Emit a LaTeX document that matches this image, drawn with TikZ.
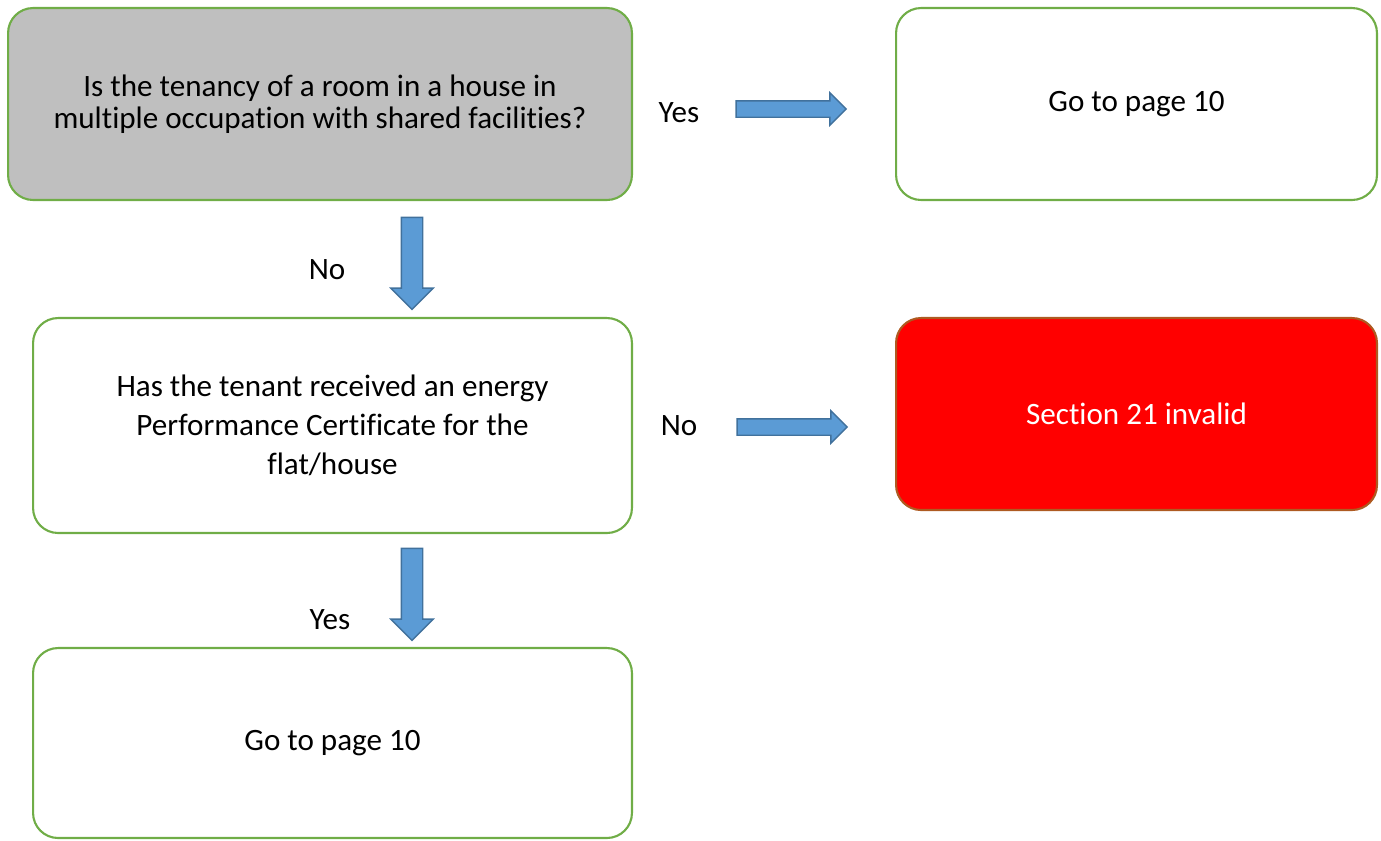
\documentclass[tikz,border=0pt]{standalone}
\usepackage{fontspec}
\setmainfont[Ligatures=NoCommon]{Carlito}
\usetikzlibrary{shapes.arrows}
\definecolor{boxgreen}{HTML}{70AD47}
\definecolor{boxgrey}{HTML}{BFBFBF}
\definecolor{redline}{HTML}{AE5A21}
\definecolor{arrowfill}{HTML}{5B9BD5}
\definecolor{arrowline}{HTML}{41719C}
\tikzset{
  qbox/.style={draw=boxgreen, line width=1.2pt, rounded corners=0.5cm,
    align=center, font=\fontsize{17.7}{22}\selectfont},
  fatright/.style={single arrow, draw=arrowline, fill=arrowfill, line width=0.8pt,
    inner xsep=0pt, inner ysep=0.15cm, single arrow head extend=0.16cm,
    single arrow head indent=0pt, minimum height=2.2cm},
  fatdown/.style={single arrow, draw=arrowline, fill=arrowfill, line width=0.8pt,
    inner xsep=0pt, inner ysep=0.2cm, single arrow head extend=0.21cm,
    single arrow head indent=0pt, minimum height=1.84cm, rotate=-90},
  lbl/.style={font=\fontsize{17.7}{22}\selectfont},
}
\begin{document}
\begin{tikzpicture}[x=0.02cm, y=-0.02cm]
  \useasboundingbox (0,0) rectangle (1381,840);

  % kaesten
  \node[qbox, fill=boxgrey, minimum width=12.48cm, minimum height=3.84cm,
    font=\fontsize{17.7}{18.2}\selectfont]
    (hmo) at (320,104) {Is the tenancy of a room in a house in\\multiple occupation with shared facilities?};
  \node[qbox, minimum width=9.62cm, minimum height=3.84cm]
    (page1) at (1136.5,104) {Go to page 10};
  \node[qbox, minimum width=11.98cm, minimum height=4.3cm]
    (epc) at (332.5,425.5) {Has the tenant received an energy\\Performance Certificate for the\\flat/house};
  \node[qbox, draw=redline, fill=red, text=white, minimum width=9.62cm, minimum height=3.84cm]
    (invalid) at (1136.5,414) {Section 21 invalid};
  \node[qbox, minimum width=11.98cm, minimum height=3.8cm]
    (page2) at (332.5,743) {Go to page 10};

  % blockpfeile
  \node[fatright] (a1) at (787,109) {};
  \node[fatdown] (a2) at (412,258) {};
  \node[fatright] (a3) at (788,427) {};
  \node[fatdown] (a4) at (412,589) {};

  % beschriftung
  \node[lbl] (l1) at (679,113) {Yes};
  \node[lbl] (l2) at (327,270) {No};
  \node[lbl] (l3) at (679,426) {No};
  \node[lbl] (l4) at (330,620) {Yes};
\end{tikzpicture}
\end{document}
